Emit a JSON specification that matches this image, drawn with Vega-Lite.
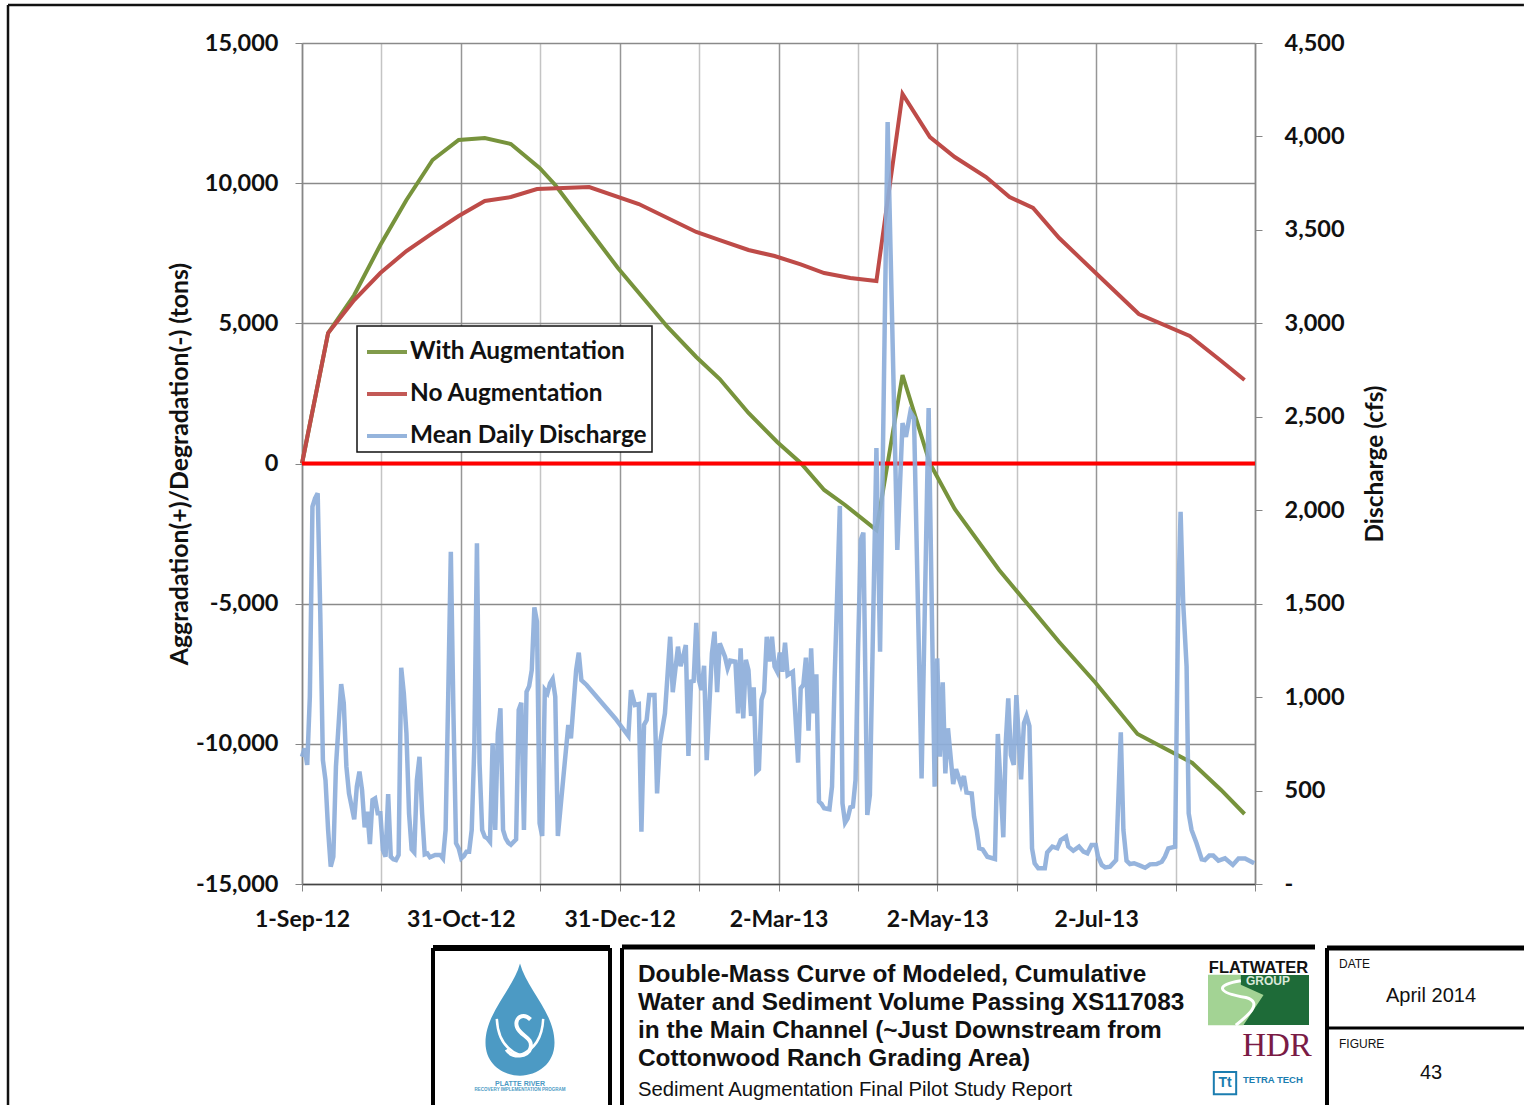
{"$schema":"https://vega.github.io/schema/vega-lite/v6.json","padding":{"left":6,"top":3,"right":0,"bottom":0},"background":"white","config":{"view":{"stroke":null},"font":"Lato","legend":{"strokeWidth":1.5}},"datasets":{"sediment":[
{"day":0,"series":"With Augmentation","tons":0},{"day":10,"series":"With Augmentation","tons":4655},{"day":20,"series":"With Augmentation","tons":6010},{"day":30,"series":"With Augmentation","tons":7794},{"day":40,"series":"With Augmentation","tons":9400},{"day":50,"series":"With Augmentation","tons":10826},{"day":60,"series":"With Augmentation","tons":11540},{"day":70,"series":"With Augmentation","tons":11611},{"day":80,"series":"With Augmentation","tons":11397},{"day":91,"series":"With Augmentation","tons":10541},{"day":97,"series":"With Augmentation","tons":9934},{"day":110,"series":"With Augmentation","tons":8329},{"day":121,"series":"With Augmentation","tons":6973},{"day":140,"series":"With Augmentation","tons":4869},{"day":151,"series":"With Augmentation","tons":3799},{"day":160,"series":"With Augmentation","tons":3014},{"day":171,"series":"With Augmentation","tons":1801},{"day":182,"series":"With Augmentation","tons":767},{"day":191,"series":"With Augmentation","tons":18},{"day":200,"series":"With Augmentation","tons":-945},{"day":208,"series":"With Augmentation","tons":-1480},{"day":220,"series":"With Augmentation","tons":-2372},{"day":230,"series":"With Augmentation","tons":3157},{"day":240.5,"series":"With Augmentation","tons":0},{"day":250,"series":"With Augmentation","tons":-1623},{"day":267,"series":"With Augmentation","tons":-3799},{"day":290,"series":"With Augmentation","tons":-6367},{"day":304,"series":"With Augmentation","tons":-7830},{"day":320,"series":"With Augmentation","tons":-9649},{"day":341,"series":"With Augmentation","tons":-10683},{"day":352,"series":"With Augmentation","tons":-11646},{"day":361,"series":"With Augmentation","tons":-12503},
{"day":0,"series":"No Augmentation","tons":0},{"day":10,"series":"No Augmentation","tons":4655},{"day":20,"series":"No Augmentation","tons":5830},{"day":30,"series":"No Augmentation","tons":6795},{"day":40,"series":"No Augmentation","tons":7580},{"day":50,"series":"No Augmentation","tons":8220},{"day":60,"series":"No Augmentation","tons":8829},{"day":70,"series":"No Augmentation","tons":9363},{"day":80,"series":"No Augmentation","tons":9506},{"day":90,"series":"No Augmentation","tons":9791},{"day":110,"series":"No Augmentation","tons":9862},{"day":129,"series":"No Augmentation","tons":9256},{"day":151,"series":"No Augmentation","tons":8258},{"day":160,"series":"No Augmentation","tons":7972},{"day":171,"series":"No Augmentation","tons":7616},{"day":181,"series":"No Augmentation","tons":7401},{"day":191,"series":"No Augmentation","tons":7100},{"day":200,"series":"No Augmentation","tons":6795},{"day":210,"series":"No Augmentation","tons":6617},{"day":220,"series":"No Augmentation","tons":6510},{"day":230,"series":"No Augmentation","tons":13180},{"day":240.5,"series":"No Augmentation","tons":11646},{"day":250,"series":"No Augmentation","tons":10933},{"day":262,"series":"No Augmentation","tons":10220},{"day":271,"series":"No Augmentation","tons":9506},{"day":280,"series":"No Augmentation","tons":9114},{"day":290,"series":"No Augmentation","tons":8043},{"day":304,"series":"No Augmentation","tons":6795},{"day":320.5,"series":"No Augmentation","tons":5333},{"day":340,"series":"No Augmentation","tons":4548},{"day":351.6,"series":"No Augmentation","tons":3692},{"day":361,"series":"No Augmentation","tons":2978}
],"discharge":[
{"day":0,"cfs":681},{"day":1,"cfs":726},{"day":2,"cfs":637},{"day":3,"cfs":1002},{"day":4,"cfs":2019},{"day":5,"cfs":2063},{"day":6,"cfs":2090},{"day":7,"cfs":1448},{"day":8,"cfs":663},{"day":9,"cfs":556},{"day":10,"cfs":289},{"day":11,"cfs":93},{"day":12,"cfs":146},{"day":13,"cfs":628},{"day":15,"cfs":1070},{"day":16,"cfs":967},{"day":17,"cfs":628},{"day":18,"cfs":485},{"day":20,"cfs":346},{"day":21,"cfs":521},{"day":22,"cfs":601},{"day":23,"cfs":503},{"day":24,"cfs":303},{"day":25,"cfs":387},{"day":26,"cfs":214},{"day":27,"cfs":449},{"day":28,"cfs":458},{"day":29,"cfs":378},{"day":30,"cfs":378},{"day":31,"cfs":182},{"day":32,"cfs":146},{"day":33,"cfs":481},{"day":34,"cfs":146},{"day":35,"cfs":132},{"day":36,"cfs":128},{"day":37,"cfs":155},{"day":38,"cfs":1157},{"day":39,"cfs":1020},{"day":40,"cfs":806},{"day":41,"cfs":378},{"day":42,"cfs":185},{"day":43,"cfs":169},{"day":44,"cfs":556},{"day":45,"cfs":681},{"day":46,"cfs":378},{"day":47,"cfs":159},{"day":48,"cfs":164},{"day":49,"cfs":143},{"day":51,"cfs":155},{"day":53,"cfs":155},{"day":54,"cfs":137},{"day":55,"cfs":289},{"day":56,"cfs":1002},{"day":57,"cfs":1778},{"day":58,"cfs":913},{"day":59,"cfs":218},{"day":60,"cfs":191},{"day":61,"cfs":137},{"day":62,"cfs":150},{"day":63,"cfs":173},{"day":64,"cfs":173},{"day":65,"cfs":289},{"day":66,"cfs":735},{"day":67,"cfs":1823},{"day":68,"cfs":646},{"day":69,"cfs":289},{"day":70,"cfs":253},{"day":71,"cfs":244},{"day":72,"cfs":226},{"day":73,"cfs":753},{"day":74,"cfs":289},{"day":75,"cfs":806},{"day":76,"cfs":940},{"day":77,"cfs":289},{"day":78,"cfs":244},{"day":79,"cfs":221},{"day":80,"cfs":210},{"day":82,"cfs":239},{"day":83,"cfs":931},{"day":84,"cfs":970},{"day":85,"cfs":289},{"day":86,"cfs":1029},{"day":87,"cfs":1059},{"day":88,"cfs":1145},{"day":89,"cfs":1480},{"day":90,"cfs":1404},{"day":91,"cfs":325},{"day":92,"cfs":257},{"day":93,"cfs":1038},{"day":94,"cfs":1020},{"day":95,"cfs":1074},{"day":96,"cfs":1097},{"day":97,"cfs":1002},{"day":98,"cfs":257},{"day":100,"cfs":556},{"day":102,"cfs":851},{"day":103,"cfs":779},{"day":105,"cfs":1145},{"day":106,"cfs":1238},{"day":107,"cfs":1091},{"day":109,"cfs":1065},{"day":120,"cfs":886},{"day":125,"cfs":792},{"day":126,"cfs":1038},{"day":127.5,"cfs":958},{"day":129,"cfs":963},{"day":130,"cfs":280},{"day":131,"cfs":851},{"day":132,"cfs":877},{"day":133,"cfs":1011},{"day":135,"cfs":1011},{"day":136,"cfs":485},{"day":137,"cfs":744},{"day":139,"cfs":913},{"day":141,"cfs":1323},{"day":142,"cfs":1026},{"day":144,"cfs":1270},{"day":145,"cfs":1166},{"day":146,"cfs":1216},{"day":147,"cfs":1279},{"day":148,"cfs":685},{"day":149,"cfs":1083},{"day":150,"cfs":1086},{"day":151,"cfs":1398},{"day":152,"cfs":1092},{"day":153,"cfs":1038},{"day":154,"cfs":1168},{"day":155,"cfs":663},{"day":157,"cfs":1234},{"day":158,"cfs":1350},{"day":159,"cfs":1026},{"day":160,"cfs":1288},{"day":162,"cfs":1216},{"day":163,"cfs":1154},{"day":164,"cfs":1195},{"day":166,"cfs":1190},{"day":167,"cfs":913},{"day":168,"cfs":1261},{"day":169,"cfs":886},{"day":170,"cfs":1199},{"day":171,"cfs":1145},{"day":172,"cfs":899},{"day":173,"cfs":1052},{"day":174,"cfs":601},{"day":175,"cfs":614},{"day":176,"cfs":985},{"day":177,"cfs":1029},{"day":178,"cfs":1323},{"day":179,"cfs":1190},{"day":180,"cfs":1323},{"day":181,"cfs":1163},{"day":182,"cfs":1136},{"day":183,"cfs":1238},{"day":184,"cfs":1136},{"day":185,"cfs":1291},{"day":186,"cfs":1118},{"day":188,"cfs":1136},{"day":190,"cfs":649},{"day":191,"cfs":1047},{"day":192,"cfs":1065},{"day":193,"cfs":1211},{"day":194,"cfs":820},{"day":195,"cfs":1261},{"day":196,"cfs":913},{"day":197,"cfs":1122},{"day":198,"cfs":441},{"day":199,"cfs":428},{"day":200,"cfs":405},{"day":202,"cfs":400},{"day":203,"cfs":521},{"day":204,"cfs":1100},{"day":206,"cfs":2023},{"day":207,"cfs":432},{"day":208,"cfs":328},{"day":209,"cfs":351},{"day":210,"cfs":410},{"day":211,"cfs":414},{"day":212,"cfs":556},{"day":213,"cfs":1270},{"day":214,"cfs":1841},{"day":215,"cfs":1880},{"day":216.5,"cfs":369},{"day":217.5,"cfs":476},{"day":220,"cfs":2333},{"day":221.4,"cfs":1243},{"day":224.3,"cfs":4077},{"day":228,"cfs":1787},{"day":230,"cfs":2466},{"day":231.3,"cfs":2392},{"day":233,"cfs":2526},{"day":234.4,"cfs":2494},{"day":237.3,"cfs":565},{"day":240,"cfs":2547},{"day":242.3,"cfs":521},{"day":243.3,"cfs":1207},{"day":244.3,"cfs":681},{"day":245.4,"cfs":1079},{"day":246.4,"cfs":592},{"day":247.4,"cfs":833},{"day":249.4,"cfs":535},{"day":250.5,"cfs":614},{"day":252.4,"cfs":530},{"day":253.5,"cfs":578},{"day":254.5,"cfs":489},{"day":256.5,"cfs":485},{"day":257.4,"cfs":360},{"day":258.4,"cfs":289},{"day":259.4,"cfs":191},{"day":260.7,"cfs":185},{"day":262.5,"cfs":146},{"day":265.4,"cfs":134},{"day":266.5,"cfs":803},{"day":268.6,"cfs":250},{"day":269.6,"cfs":771},{"day":270.5,"cfs":993},{"day":271.5,"cfs":690},{"day":272.6,"cfs":637},{"day":273.6,"cfs":1011},{"day":275.4,"cfs":560},{"day":276.5,"cfs":860},{"day":277.5,"cfs":899},{"day":278.6,"cfs":845},{"day":279.6,"cfs":191},{"day":280.6,"cfs":111},{"day":282,"cfs":84},{"day":284.5,"cfs":84},{"day":285.4,"cfs":168},{"day":287.4,"cfs":200},{"day":289.3,"cfs":191},{"day":290.6,"cfs":235},{"day":292.6,"cfs":253},{"day":293.5,"cfs":200},{"day":295.4,"cfs":178},{"day":297.6,"cfs":200},{"day":299.3,"cfs":173},{"day":300.8,"cfs":164},{"day":302.4,"cfs":209},{"day":304,"cfs":209},{"day":304.9,"cfs":146},{"day":306.3,"cfs":102},{"day":307.6,"cfs":89},{"day":309.5,"cfs":93},{"day":311.8,"cfs":128},{"day":313.6,"cfs":811},{"day":314.6,"cfs":289},{"day":315.8,"cfs":125},{"day":317.1,"cfs":107},{"day":318.7,"cfs":111},{"day":321,"cfs":98},{"day":322.9,"cfs":87},{"day":324.8,"cfs":105},{"day":327.3,"cfs":107},{"day":329.3,"cfs":119},{"day":330.5,"cfs":146},{"day":331.8,"cfs":191},{"day":334.4,"cfs":200},{"day":335.6,"cfs":1502},{"day":336.5,"cfs":1992},{"day":337.5,"cfs":1502},{"day":338.8,"cfs":1163},{"day":339.6,"cfs":378},{"day":340.7,"cfs":289},{"day":342.6,"cfs":218},{"day":344.6,"cfs":132},{"day":345.8,"cfs":128},{"day":347.5,"cfs":152},{"day":349,"cfs":152},{"day":351,"cfs":125},{"day":353.5,"cfs":137},{"day":356.5,"cfs":102},{"day":358.7,"cfs":137},{"day":361.2,"cfs":137},{"day":364.7,"cfs":111}
]},
"bounds":"flush","spacing":64,"vconcat":[
{"width":953,"height":841,"resolve":{"scale":{"y":"independent"}},"layer":[
{"layer":[
{"data":{"values":[{"frame":"outer"}]},"mark":{"type":"rule","color":"#111111","strokeWidth":2.5},"encoding":{"x":{"datum":-112.6,"type":"quantitative","scale":{"domain":[0,365],"nice":false}},"y":{"datum":16355,"type":"quantitative","scale":{"domain":[-15000,15000],"nice":false}},"y2":{"datum":-22882}}},
{"data":{"values":[{"frame":"outer"}]},"mark":{"type":"rule","color":"#111111","strokeWidth":2.5},"encoding":{"x":{"datum":-112.6,"type":"quantitative","scale":{"domain":[0,365],"nice":false}},"x2":{"datum":468},"y":{"datum":16355,"type":"quantitative","scale":{"domain":[-15000,15000],"nice":false}}}},
{"data":{"name":"sediment"},"mark":{"type":"line","strokeWidth":4,"interpolate":"linear"},"encoding":{
"x":{"field":"day","type":"quantitative","scale":{"domain":[0,365],"nice":false},"axis":{"title":null,"values":[0,30.4167,60.8333,91.25,121.6667,152.0833,182.5,212.9167,243.3333,273.75,304.1667,334.5833,365],"labelExpr":"(round(datum.value/30.4167)%2==0 && datum.value<360) ? timeFormat(datetime(2012,8,1+datum.value),'%-d-%b-%y') : ''","labelOverlap":false,"labelFlush":false,"labelFont":"Lato","labelFontSize":23,"labelFontWeight":"bold","labelColor":"#111111","labelPadding":17,"tickSize":7,"tickColor":"#868686","domainColor":"#444444","domainWidth":1.5,"grid":true,"gridWidth":1.5,"gridColor":{"condition":{"test":"round(datum.value/30.4167)%2==0","value":"#969696"},"value":"#c4c4c4"}}},
"y":{"field":"tons","type":"quantitative","scale":{"domain":[-15000,15000],"nice":false},"axis":{"title":"Aggradation(+)/Degradation(-) (tons)","values":[-15000,-10000,-5000,0,5000,10000,15000],"labelExpr":"(datum.value<0?'-':'')+format(abs(datum.value),',')","labelFont":"Lato","labelFontSize":23.5,"labelFontWeight":"bold","labelColor":"#111111","labelPadding":17,"tickSize":7,"tickColor":"#868686","domainColor":"#868686","domainWidth":1.5,"grid":true,"gridColor":"#8a8a8a","gridWidth":1.5,"titleFont":"Lato","titleFontSize":24.8,"titleFontWeight":"bold","titleColor":"#111111","titlePadding":3}},
"color":{"field":"series","type":"nominal","scale":{"domain":["With Augmentation","No Augmentation","Mean Daily Discharge"],"range":["#77933C","#BE4B48","#8DAEDA"]},"legend":{"title":null,"orient":"none","legendX":55,"legendY":283,"fillColor":"white","strokeColor":"#111111","padding":4,"rowPadding":8,"symbolOffset":4,"symbolType":"stroke","symbolSize":1600,"symbolStrokeWidth":4,"labelFont":"Lato","labelFontSize":24.4,"labelFontWeight":"bold","labelColor":"#111111","labelOffset":1,"labelLimit":400}}}},
{"data":{"values":[{"reference":"zero"}]},"mark":{"type":"rule","color":"#FF0000","strokeWidth":4},"encoding":{"y":{"datum":0,"type":"quantitative","scale":{"domain":[-15000,15000],"nice":false}}}}
]},
{"data":{"name":"discharge"},"mark":{"type":"line","strokeWidth":4.5,"opacity":0.92,"interpolate":"linear"},"encoding":{"x":{"field":"day","type":"quantitative","scale":{"domain":[0,365],"nice":false}},"y":{"field":"cfs","type":"quantitative","scale":{"domain":[0,4500],"nice":false},"axis":{"orient":"right","title":"Discharge (cfs)","values":[0,500,1000,1500,2000,2500,3000,3500,4000,4500],"labelExpr":"datum.value==0?'-':format(datum.value,',')","labelFont":"Lato","labelFontSize":23.5,"labelFontWeight":"bold","labelColor":"#111111","labelPadding":22,"tickSize":7,"tickColor":"#868686","domainColor":"#868686","domainWidth":1.5,"grid":false,"titleFont":"Lato","titleFontSize":24.4,"titleFontWeight":"bold","titleColor":"#111111","titleAngle":270,"titlePadding":43}},"color":{"datum":"Mean Daily Discharge"}}}
]},
{"bounds":"flush","spacing":12,"hconcat":[
{"width":119,"height":157,"data":{"values":[{"spacer":1}]},"mark":{"type":"text","opacity":0},"encoding":{"text":{"value":""}}},
{"width":177,"height":157,"layer":[
{"data":{"values":[{"edge":"left"}]},"mark":{"type":"rule","color":"black","strokeWidth":4},"encoding":{"x":{"datum":0,"type":"quantitative","scale":{"domain":[0,177],"nice":false},"axis":null}}},
{"data":{"values":[{"edge":"right"}]},"mark":{"type":"rule","color":"black","strokeWidth":4},"encoding":{"x":{"datum":177,"type":"quantitative","scale":{"domain":[0,177],"nice":false},"axis":null}}},
{"data":{"values":[{"edge":"top"}]},"mark":{"type":"rule","color":"black","strokeWidth":6},"encoding":{"y":{"datum":0,"type":"quantitative","scale":{"domain":[0,157],"nice":false,"reverse":true},"axis":null}}},
{"data":{"values":[{"logo":"drop"}]},"mark":{"type":"point","filled":true,"color":"#4C9AC4","opacity":1,"size":13225,"shape":"M0,-1 C0.12,-0.55 0.6,-0.15 0.6,0.38 C0.6,0.75 0.3,0.95 0,0.95 C-0.3,0.95 -0.6,0.75 -0.6,0.38 C-0.6,-0.15 -0.12,-0.55 0,-1 Z"},"encoding":{"x":{"datum":87,"type":"quantitative","scale":{"domain":[0,177],"nice":false},"axis":null},"y":{"datum":73,"type":"quantitative","scale":{"domain":[0,157],"nice":false,"reverse":true},"axis":null}}},
{"data":{"values":[{"logo":"swan"}]},"mark":{"type":"point","filled":false,"color":"white","opacity":1,"strokeWidth":4,"size":3600,"shape":"M0.35,-0.55 C0.1,-0.8 -0.2,-0.6 -0.1,-0.3 C0,0 0.45,0.05 0.35,0.4 C0.28,0.7 -0.25,0.75 -0.45,0.45"},"encoding":{"x":{"datum":87,"type":"quantitative","scale":{"domain":[0,177],"nice":false},"axis":null},"y":{"datum":88,"type":"quantitative","scale":{"domain":[0,157],"nice":false,"reverse":true},"axis":null}}},
{"data":{"values":[{"logo":"wings"}]},"mark":{"type":"point","filled":false,"color":"white","opacity":1,"strokeWidth":2.5,"size":5600,"shape":"M-0.62,-0.35 C-0.6,0.1 -0.45,0.45 0,0.62 C0.45,0.45 0.6,0.1 0.62,-0.35"},"encoding":{"x":{"datum":87,"type":"quantitative","scale":{"domain":[0,177],"nice":false},"axis":null},"y":{"datum":84,"type":"quantitative","scale":{"domain":[0,157],"nice":false,"reverse":true},"axis":null}}},
{"data":{"values":[{"label":"PLATTE RIVER"}]},"mark":{"type":"text","font":"Liberation Sans","fontWeight":"bold","fontSize":7,"color":"#4C9AC4"},"encoding":{"text":{"field":"label"},"x":{"datum":87,"type":"quantitative","scale":{"domain":[0,177],"nice":false},"axis":null},"y":{"datum":136,"type":"quantitative","scale":{"domain":[0,157],"nice":false,"reverse":true},"axis":null}}},
{"data":{"values":[{"label":"RECOVERY IMPLEMENTATION PROGRAM"}]},"mark":{"type":"text","font":"Liberation Sans","fontWeight":"bold","fontSize":4.5,"color":"#4C9AC4"},"encoding":{"text":{"field":"label"},"x":{"datum":87,"type":"quantitative","scale":{"domain":[0,177],"nice":false},"axis":null},"y":{"datum":142,"type":"quantitative","scale":{"domain":[0,157],"nice":false,"reverse":true},"axis":null}}}
]},
{"width":693,"height":157,"layer":[
{"data":{"values":[{"edge":"left"}]},"mark":{"type":"rule","color":"black","strokeWidth":4},"encoding":{"x":{"datum":0,"type":"quantitative","scale":{"domain":[0,693],"nice":false},"axis":null}}},
{"data":{"values":[{"edge":"top"}]},"mark":{"type":"rule","color":"black","strokeWidth":5},"encoding":{"y":{"datum":0,"type":"quantitative","scale":{"domain":[0.036,5.643],"nice":false,"reverse":true},"axis":null}}},
{"data":{"values":[{"line":1,"label":"Double-Mass Curve of Modeled, Cumulative"},{"line":2,"label":"Water and Sediment Volume Passing XS117083"},{"line":3,"label":"in the Main Channel (~Just Downstream from"},{"line":4,"label":"Cottonwood Ranch Grading Area)"}]},"mark":{"type":"text","font":"Liberation Sans","fontWeight":"bold","fontSize":24.4,"align":"left","color":"#111111"},"encoding":{"text":{"field":"label"},"x":{"datum":16,"type":"quantitative","scale":{"domain":[0,693],"nice":false},"axis":null},"y":{"field":"line","type":"quantitative","scale":{"domain":[0.036,5.643],"nice":false,"reverse":true},"axis":null}}},
{"data":{"values":[{"label":"Sediment Augmentation Final Pilot Study Report"}]},"mark":{"type":"text","font":"Liberation Sans","fontSize":20.3,"align":"left","color":"#111111"},"encoding":{"text":{"field":"label"},"x":{"datum":16,"type":"quantitative","scale":{"domain":[0,693],"nice":false},"axis":null},"y":{"datum":5.107,"type":"quantitative","scale":{"domain":[0.036,5.643],"nice":false,"reverse":true},"axis":null}}},
{"data":{"values":[{"logo":"Flatwater"}]},"mark":{"type":"rect","color":"#1E6B38"},"encoding":{"x":{"datum":586,"type":"quantitative","scale":{"domain":[0,693],"nice":false},"axis":null},"x2":{"datum":687},"y":{"datum":1,"type":"quantitative","scale":{"domain":[0.036,5.643],"nice":false,"reverse":true},"axis":null},"y2":{"datum":2.786}}},
{"data":{"values":[{"logo":"Flatwater land"}]},"mark":{"type":"point","filled":true,"color":"#A3D394","opacity":1,"size":10201,"shape":"M-1,-0.5 L-0.35,-0.5 L-0.35,-0.3 L0.1,-0.1 L-0.3,0.5 L-1,0.5 Z"},"encoding":{"x":{"datum":636.5,"type":"quantitative","scale":{"domain":[0,693],"nice":false},"axis":null},"y":{"datum":1.893,"type":"quantitative","scale":{"domain":[0.036,5.643],"nice":false,"reverse":true},"axis":null}}},
{"data":{"values":[{"logo":"Flatwater river"}]},"mark":{"type":"point","filled":false,"color":"white","opacity":1,"strokeWidth":3,"size":10201,"shape":"M-0.35,-0.38 C-0.85,-0.3 -0.85,-0.15 -0.25,-0.05 C0.1,0.05 -0.2,0.3 -0.45,0.5"},"encoding":{"x":{"datum":636.5,"type":"quantitative","scale":{"domain":[0,693],"nice":false},"axis":null},"y":{"datum":1.893,"type":"quantitative","scale":{"domain":[0.036,5.643],"nice":false,"reverse":true},"axis":null}}},
{"data":{"values":[{"label":"FLATWATER"}]},"mark":{"type":"text","font":"Liberation Sans","fontWeight":"bold","fontSize":16.5,"color":"#111111"},"encoding":{"text":{"field":"label"},"x":{"datum":636.5,"type":"quantitative","scale":{"domain":[0,693],"nice":false},"axis":null},"y":{"datum":0.75,"type":"quantitative","scale":{"domain":[0.036,5.643],"nice":false,"reverse":true},"axis":null}}},
{"data":{"values":[{"label":"GROUP"}]},"mark":{"type":"text","font":"Liberation Sans","fontWeight":"bold","fontSize":12,"color":"#D8E8D8"},"encoding":{"text":{"field":"label"},"x":{"datum":646,"type":"quantitative","scale":{"domain":[0,693],"nice":false},"axis":null},"y":{"datum":1.2,"type":"quantitative","scale":{"domain":[0.036,5.643],"nice":false,"reverse":true},"axis":null}}},
{"data":{"values":[{"label":"HDR"}]},"mark":{"type":"text","font":"Liberation Serif","fontSize":33,"color":"#7A1B45"},"encoding":{"text":{"field":"label"},"x":{"datum":655,"type":"quantitative","scale":{"domain":[0,693],"nice":false},"axis":null},"y":{"datum":3.54,"type":"quantitative","scale":{"domain":[0.036,5.643],"nice":false,"reverse":true},"axis":null}}},
{"data":{"values":[{"logo":"Tetra Tech box"}]},"mark":{"type":"point","shape":"square","filled":false,"color":"#1B7DB0","opacity":1,"strokeWidth":2,"size":500},"encoding":{"x":{"datum":603,"type":"quantitative","scale":{"domain":[0,693],"nice":false},"axis":null},"y":{"datum":4.86,"type":"quantitative","scale":{"domain":[0.036,5.643],"nice":false,"reverse":true},"axis":null}}},
{"data":{"values":[{"label":"Tt"}]},"mark":{"type":"text","font":"Liberation Sans","fontWeight":"bold","fontSize":14,"color":"#1B7DB0"},"encoding":{"text":{"field":"label"},"x":{"datum":603,"type":"quantitative","scale":{"domain":[0,693],"nice":false},"axis":null},"y":{"datum":4.86,"type":"quantitative","scale":{"domain":[0.036,5.643],"nice":false,"reverse":true},"axis":null}}},
{"data":{"values":[{"label":"TETRA TECH"}]},"mark":{"type":"text","font":"Liberation Sans","fontWeight":"bold","fontSize":9.5,"color":"#1B7DB0","align":"left"},"encoding":{"text":{"field":"label"},"x":{"datum":621,"type":"quantitative","scale":{"domain":[0,693],"nice":false},"axis":null},"y":{"datum":4.75,"type":"quantitative","scale":{"domain":[0.036,5.643],"nice":false,"reverse":true},"axis":null}}}
]},
{"width":197,"height":157,"layer":[
{"data":{"values":[{"edge":"left"}]},"mark":{"type":"rule","color":"black","strokeWidth":4},"encoding":{"x":{"datum":0,"type":"quantitative","scale":{"domain":[0,197],"nice":false},"axis":null}}},
{"data":{"values":[{"edge":"top"}]},"mark":{"type":"rule","color":"black","strokeWidth":5},"encoding":{"y":{"datum":0,"type":"quantitative","scale":{"domain":[0,157],"nice":false,"reverse":true},"axis":null}}},
{"data":{"values":[{"edge":"divider"}]},"mark":{"type":"rule","color":"black","strokeWidth":3},"encoding":{"y":{"datum":80,"type":"quantitative","scale":{"domain":[0,157],"nice":false,"reverse":true},"axis":null}}},
{"data":{"values":[{"label":"DATE"}]},"mark":{"type":"text","font":"Liberation Sans","fontSize":12,"align":"left","color":"#111111"},"encoding":{"text":{"field":"label"},"x":{"datum":12,"type":"quantitative","scale":{"domain":[0,197],"nice":false},"axis":null},"y":{"datum":16,"type":"quantitative","scale":{"domain":[0,157],"nice":false,"reverse":true},"axis":null}}},
{"data":{"values":[{"label":"April 2014"}]},"mark":{"type":"text","font":"Liberation Sans","fontSize":20,"color":"#111111"},"encoding":{"text":{"field":"label"},"x":{"datum":104,"type":"quantitative","scale":{"domain":[0,197],"nice":false},"axis":null},"y":{"datum":48,"type":"quantitative","scale":{"domain":[0,157],"nice":false,"reverse":true},"axis":null}}},
{"data":{"values":[{"label":"FIGURE"}]},"mark":{"type":"text","font":"Liberation Sans","fontSize":12,"align":"left","color":"#111111"},"encoding":{"text":{"field":"label"},"x":{"datum":12,"type":"quantitative","scale":{"domain":[0,197],"nice":false},"axis":null},"y":{"datum":96,"type":"quantitative","scale":{"domain":[0,157],"nice":false,"reverse":true},"axis":null}}},
{"data":{"values":[{"label":"43"}]},"mark":{"type":"text","font":"Liberation Sans","fontSize":20,"color":"#111111"},"encoding":{"text":{"field":"label"},"x":{"datum":104,"type":"quantitative","scale":{"domain":[0,197],"nice":false},"axis":null},"y":{"datum":125,"type":"quantitative","scale":{"domain":[0,157],"nice":false,"reverse":true},"axis":null}}}
]}
]}
]}
